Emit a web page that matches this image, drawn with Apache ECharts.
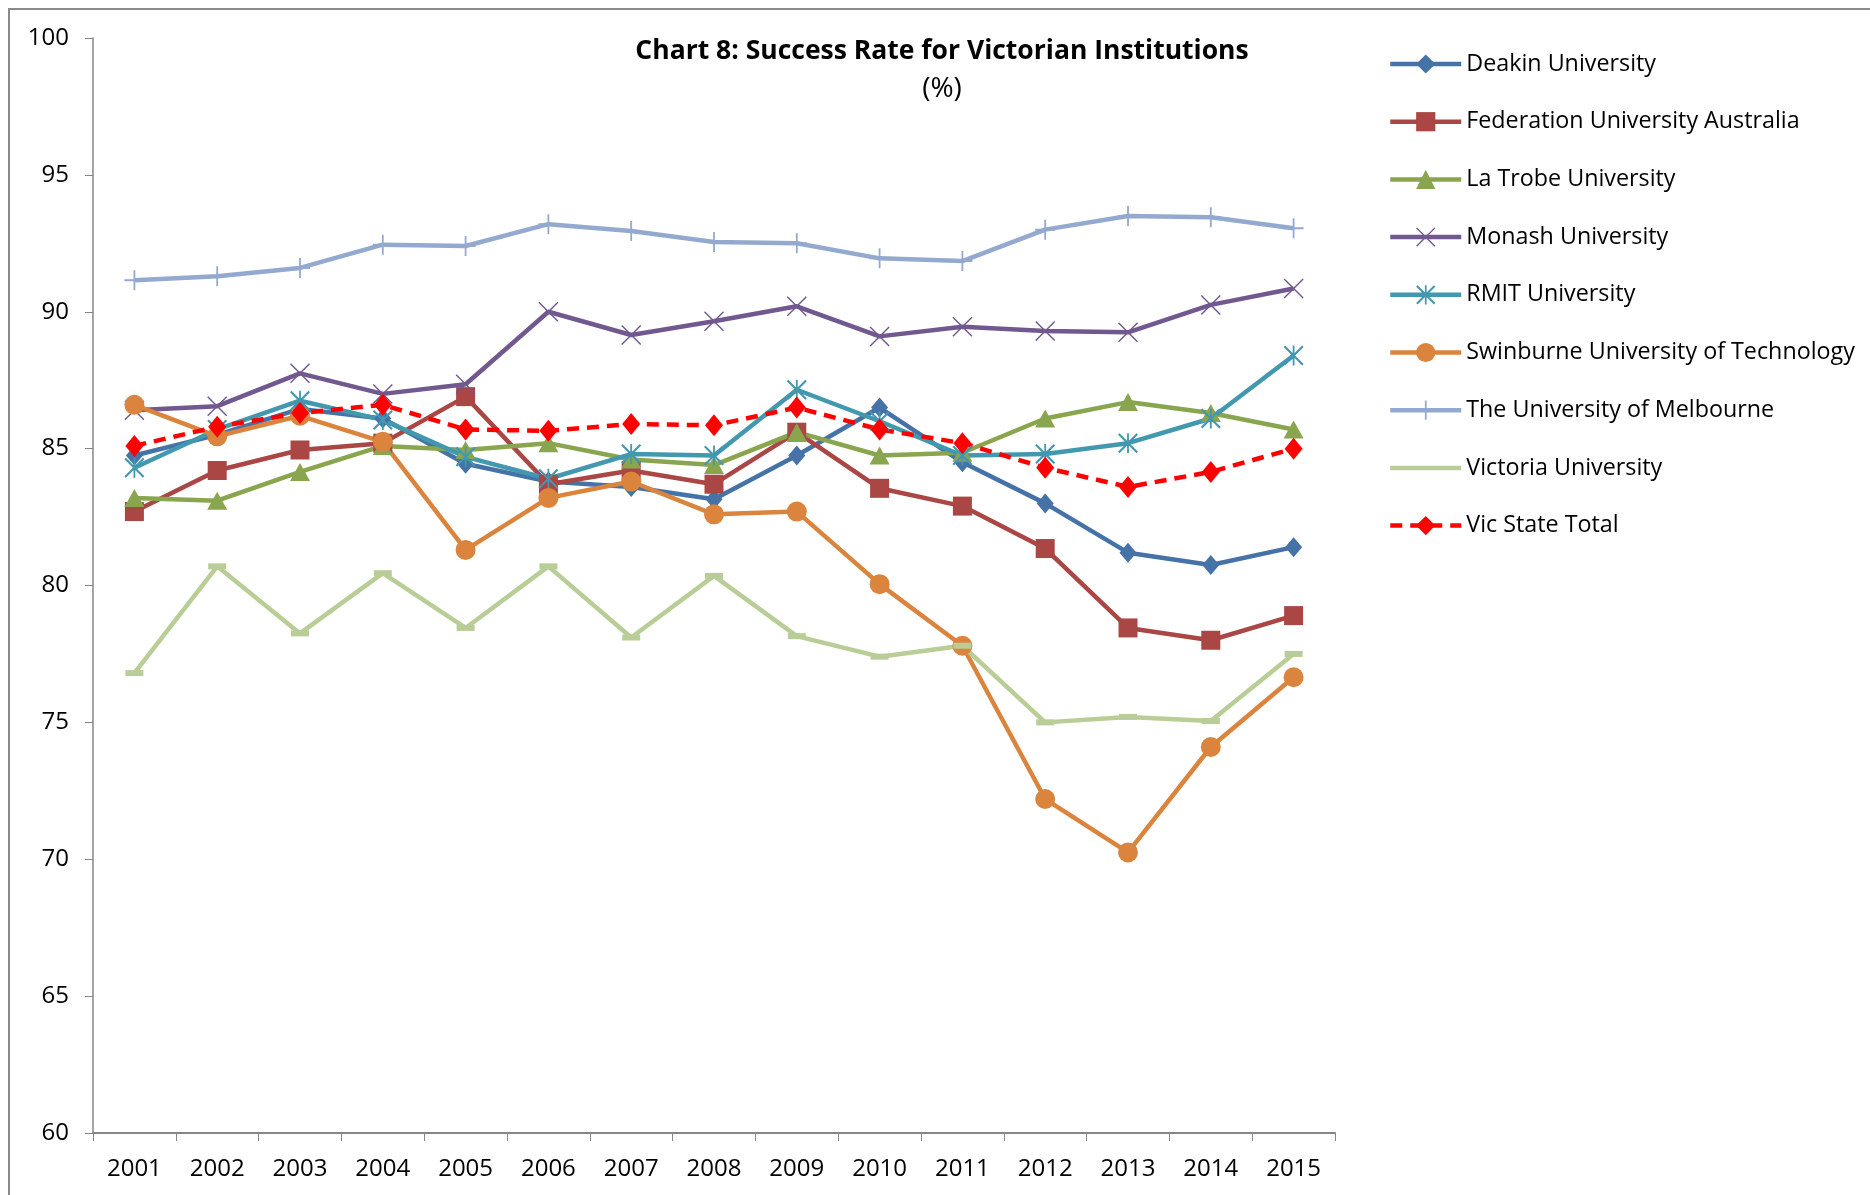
<!DOCTYPE html>
<html>
<head>
<meta charset="utf-8">
<script src="https://cdn.jsdelivr.net/npm/echarts@6/dist/echarts.min.js"></script>
<style>
  html, body { margin: 0; padding: 0; background: #fff; }
  #chart { width: 1870px; height: 1195px; }
</style>
</head>
<body>
<div id="chart"></div>
<script>
var years = ['2001', '2002', '2003', '2004', '2005', '2006', '2007', '2008', '2009', '2010', '2011', '2012', '2013', '2014', '2015'];

var deakin = [84.75, 85.5, 86.45, 86.1, 84.45, 83.8, 83.6, 83.15, 84.75, 86.5, 84.5, 83.0, 81.2, 80.75, 81.4];
var federation = [82.7, 84.2, 84.95, 85.2, 86.9, 83.7, 84.2, 83.7, 85.6, 83.55, 82.9, 81.35, 78.45, 78.0, 78.9];
var laTrobe = [83.2, 83.1, 84.15, 85.1, 84.95, 85.2, 84.6, 84.4, 85.6, 84.75, 84.85, 86.1, 86.7, 86.3, 85.7];
var monash = [86.4, 86.55, 87.75, 87.0, 87.35, 90.0, 89.15, 89.65, 90.2, 89.1, 89.45, 89.3, 89.25, 90.25, 90.85];
var rmit = [84.3, 85.7, 86.75, 86.05, 84.7, 83.9, 84.8, 84.75, 87.15, 86.0, 84.75, 84.8, 85.2, 86.1, 88.4];
var swinburne = [86.6, 85.45, 86.2, 85.25, 81.3, 83.2, 83.8, 82.6, 82.7, 80.05, 77.8, 72.2, 70.25, 74.1, 76.65];
var melbourne = [91.15, 91.3, 91.6, 92.45, 92.4, 93.2, 92.95, 92.55, 92.5, 91.95, 91.85, 93.0, 93.5, 93.45, 93.05];
var victoria = [76.8, 80.7, 78.25, 80.45, 78.45, 80.7, 78.1, 80.35, 78.15, 77.4, 77.8, 75.0, 75.2, 75.05, 77.5];
var vicTotal = [85.1, 85.8, 86.3, 86.6, 85.7, 85.65, 85.9, 85.85, 86.5, 85.7, 85.2, 84.3, 83.6, 84.15, 85.0];

// marker shapes drawn as filled paths
var xMark = 'path://M0,1 L1,0 L10,9 L19,0 L20,1 L11,10 L20,19 L19,20 L10,11 L1,20 L0,19 L9,10 Z';
var starMark = 'path://M0,1.5 L1.5,0 L10,8.5 L18.5,0 L20,1.5 L11.5,10 L20,18.5 L18.5,20 L10,11.5 L1.5,20 L0,18.5 L8.5,10 Z M9.1,0 L10.9,0 L10.9,20 L9.1,20 Z';
var plusMark = 'path://M9.1,0 L10.9,0 L10.9,9 L20,9 L20,11 L10.9,11 L10.9,20 L9.1,20 L9.1,11 L0,11 L0,9 L9.1,9 Z';
// plain line icon for the legend (tiny corner dots keep the box 71x24)
var plainLineIcon = 'path://M0,0 H0.01 V0.01 H0 Z M0,9.75 H71 V14.25 H0 Z M70.99,23.99 H71 V24 H70.99 Z';

function line(name, data, color, symbol, size, extra) {
    var s = {
        name: name,
        type: 'line',
        data: data,
        symbol: symbol,
        symbolSize: size,
        showSymbol: true,
        lineStyle: { color: color, width: 4.5 },
        itemStyle: { color: color },
        emphasis: { disabled: true }
    };
    if (extra) {
        for (var k in extra) s[k] = extra[k];
    }
    return s;
}

var myChart = echarts.init(document.getElementById('chart'));
var font = 'Open Sans';

var option = {
    animation: false,
    backgroundColor: '#fff',
    textStyle: { fontFamily: font },
    graphic: [
        {
            type: 'rect',
            shape: { x: 9, y: 9, width: 1900, height: 1250 },
            style: { fill: null, stroke: '#8a8a8a', lineWidth: 2 },
            silent: true
        },
        {
            type: 'text',
            x: 942, y: 51,
            style: {
                text: 'Chart 8: Success Rate for Victorian Institutions',
                font: 'bold 26.5px "Open Sans"',
                fill: '#000',
                align: 'center',
                verticalAlign: 'middle'
            }
        },
        {
            type: 'text',
            x: 942, y: 89,
            style: {
                text: '(%)',
                font: '28px "Open Sans"',
                fill: '#000',
                align: 'center',
                verticalAlign: 'middle'
            }
        }
    ],
    legend: {
        orient: 'vertical',
        left: 1383,
        top: 47,
        itemWidth: 71,
        itemHeight: 24,
        itemGap: 33.7,
        lineStyle: { width: 4.5 },
        textStyle: { fontSize: 23.3, color: '#000', lineHeight: 24, fontFamily: font },
        data: ['Deakin University', 'Federation University Australia', 'La Trobe University',
            'Monash University', 'RMIT University', 'Swinburne University of Technology',
            'The University of Melbourne', { name: 'Victoria University', icon: plainLineIcon }, 'Vic State Total']
    },
    grid: { left: 93, right: 535, top: 38, bottom: 62, containLabel: false },
    xAxis: {
        type: 'category',
        data: years,
        boundaryGap: true,
        axisLine: { lineStyle: { color: '#868686', width: 2 } },
        axisTick: { show: true, length: 8, lineStyle: { color: '#868686', width: 1 } },
        axisLabel: { fontSize: 24, color: '#000', margin: 24.5, fontFamily: font },
        splitLine: { show: false }
    },
    yAxis: {
        type: 'value',
        min: 60,
        max: 100,
        interval: 5,
        axisLine: { show: true, lineStyle: { color: '#868686', width: 1.5 } },
        axisTick: { show: true, length: 8, lineStyle: { color: '#868686', width: 1 } },
        axisLabel: { fontSize: 24, color: '#000', margin: 24, fontFamily: font },
        splitLine: { show: false }
    },
    series: [
        line('Deakin University', deakin, '#4572A7', 'diamond', [17, 20]),
        line('Federation University Australia', federation, '#AA4643', 'rect', 19),
        line('La Trobe University', laTrobe, '#89A54E', 'triangle', [20, 18]),
        line('Monash University', monash, '#71588F', xMark, 20),
        line('RMIT University', rmit, '#4198AF', starMark, 20),
        line('Swinburne University of Technology', swinburne, '#DB843D', 'circle', 20),
        line('The University of Melbourne', melbourne, '#93A9CF', plusMark, 20),
        line('Victoria University', victoria, '#B9CD96', 'rect', [18, 6]),
        line('Vic State Total', vicTotal, '#FF0000', 'diamond', [18, 22], {
            lineStyle: { color: '#FF0000', width: 4.5, type: [12, 8] }
        })
    ]
};

myChart.setOption(option);
</script>
</body>
</html>
